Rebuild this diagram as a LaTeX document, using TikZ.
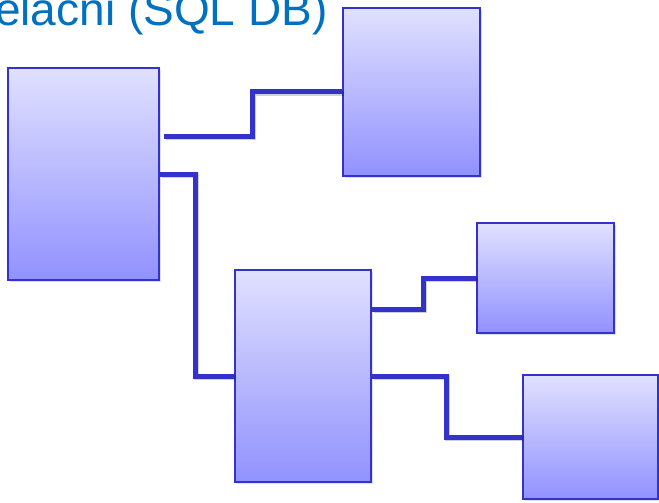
\documentclass[tikz,border=0pt]{standalone}
\usepackage{fontspec}
\setmainfont{Liberation Sans}
\usetikzlibrary{positioning, shadows}
\definecolor{linkblue}{RGB}{51,51,204}
\definecolor{titleblue}{RGB}{0,112,192}
\tikzset{
        x=1pt, y=-1pt, % one unit is one pixel of the reference, y runs down
        table/.style={draw=linkblue, line width=2pt, top color=blue!12!white, bottom color=blue!40!white!95!blue,
                drop shadow={opacity=0.25, shadow xshift=2pt, shadow yshift=-2pt}}, % the boxes
        link/.style={draw=linkblue, line width=5pt,
                preaction={draw=black, opacity=0.18, line width=5pt, transform canvas={shift={(1.5pt,-1.5pt)}}}}, % the connectors
        }
\begin{document}
\begin{tikzpicture}
        \useasboundingbox (0,0) rectangle (659,503);
        % title, cut off at the left
        \node[anchor=base west, inner sep=0pt, text=titleblue, font=\fontsize{46}{55}\selectfont] (Title) at (-5,26) {elacni (SQL DB)};
        % tables
        \node[table, minimum width=151pt, minimum height=212pt] (Parent) at (83.5,174) {};
        \node[table, minimum width=137pt, minimum height=168pt] (Lookup) at (411.5,92) {};
        \node[table, minimum width=136pt, minimum height=212pt] (Child) at (303,376) {};
        \node[table, minimum width=137pt, minimum height=110pt] (LeafA) at (545.5,278) {};
        \node[table, minimum width=135pt, minimum height=124pt] (LeafB) at (590.5,437) {};

        \draw[link] ([xshift=4pt, yshift=38pt]Parent.east) -| ([xshift=-90pt]Lookup.west) -- (Lookup.west);
        \draw[link] (Parent.east) -| ([xshift=-39pt]Child.west) -- (Child.west);
        \draw[link] ([yshift=67pt]Child.east) -| ([xshift=-53pt]LeafA.west) -- (LeafA.west);
        \draw[link] (Child.east) -| ([xshift=-76pt]LeafB.west) -- (LeafB.west);
\end{tikzpicture}
\end{document}
